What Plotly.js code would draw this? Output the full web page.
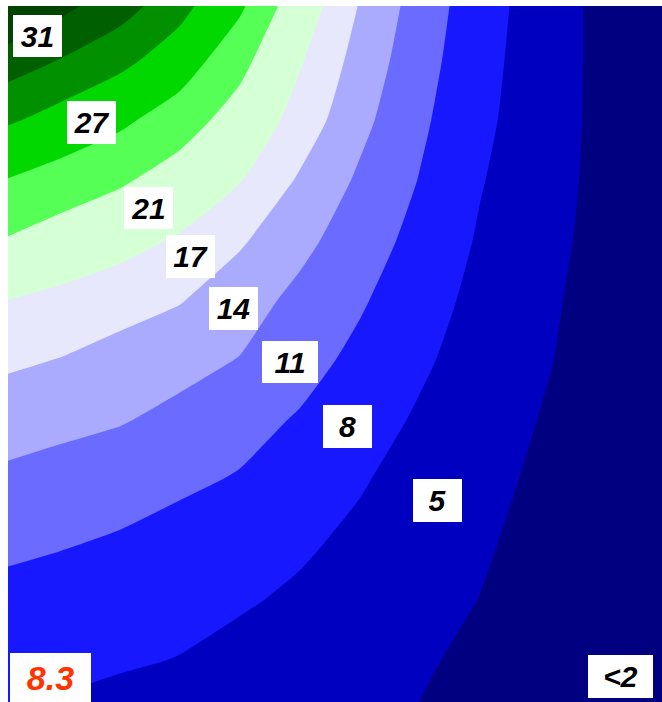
<!DOCTYPE html>
<html>
<head>
<meta charset="utf-8">
<script src="https://cdn.plot.ly/plotly-3.0.1.min.js"></script>
<style>html,body{margin:0;padding:0;background:#fff;}</style>
</head>
<body>
<div id="chart" style="width:662px;height:702px;"></div>
<script>
// grid coordinates (horizontal position, vertical position from top)
var gridX = [0, 52, 112, 172, 232, 292, 352, 412, 472, 532, 592, 654];
var gridY = [0, 54, 114, 174, 234, 294, 354, 414, 474, 534, 594, 654, 696];

// field values (rows top -> bottom)
var zRow0  = [33.5, 31.6, 29.8, 27.8, 24.5, 19.0, 13.8, 9.65, 6.3, 3.65, 1.35, 0.5];
var zRow1  = [30.0, 28.94, 27.7, 25.6, 22.0, 17.3, 12.83, 9.16, 6.0, 3.55, 1.39, 0.5];
var zRow2  = [27.3, 26.2, 24.6, 22.5, 19.55, 15.76, 11.8, 8.54, 5.66, 3.43, 1.39, 0.5];
var zRow3  = [23.9, 22.77, 21.46, 19.49, 17.16, 13.63, 10.54, 7.88, 5.18, 3.23, 1.34, 0.5];
var zRow4  = [20.8, 19.59, 18.19, 16.66, 14.39, 11.81, 9.42, 7.08, 4.71, 2.96, 1.21, 0.4];
var zRow5  = [17.0, 16.15, 15.16, 14.18, 12.27, 10.24, 8.34, 6.18, 4.24, 2.62, 1.0, 0.3];
var zRow6  = [14.5, 13.91, 12.92, 11.93, 10.89, 9.08, 7.26, 5.42, 3.84, 2.35, 0.85, 0.2];
var zRow7  = [12.33, 11.81, 11.21, 10.21, 9.0, 7.73, 6.17, 4.66, 3.29, 1.93, 0.56, 0.1];
var zRow8  = [10.37, 9.81, 9.17, 8.52, 7.76, 6.49, 5.22, 4.0, 2.78, 1.57, 0.37, 0.0];
var zRow9  = [8.63, 8.28, 7.76, 6.98, 6.19, 5.41, 4.49, 3.41, 2.34, 1.26, 0.2, 0.0];
var zRow10 = [7.2, 6.77, 6.27, 5.77, 5.27, 4.6, 3.72, 2.84, 1.96, 1.12, 0.3, 0.0];
var zRow11 = [5.94, 5.64, 5.30, 4.92, 4.25, 3.58, 2.91, 2.24, 1.56, 0.9, 0.3, 0.0];
var zRow12 = [5.1, 4.84, 4.37, 3.89, 3.42, 2.94, 2.47, 1.99, 1.5, 0.9, 0.3, 0.0];

// band boundaries and band colours (lowest band first)
var levels = [2, 5, 8, 11, 14, 17, 21, 24, 27, 29, 31];
var bandColors = ['#000080', '#0000C0', '#1818FF', '#6B6BFF', '#AAAAFF', '#E8E8FC',
                  '#D5FFD5', '#55FF55', '#00D800', '#009000', '#006000', '#004400'];

// labels
var labelTexts = ['31', '27', '21', '17', '14', '11', '8', '5', '&lt;2'];
var valueText = '8.3';

var z = [zRow0, zRow1, zRow2, zRow3, zRow4, zRow5, zRow6, zRow7, zRow8, zRow9, zRow10, zRow11, zRow12];

// contour step of 1 from first to last boundary; each unit band gets its band colour
var cStart = levels[0], cEnd = levels[levels.length - 1], cSize = 1;
var nc = Math.round((cEnd - cStart) / cSize) + 1;
function bandColorFor(v) {
  var idx = 0;
  for (var i = 0; i < levels.length; i++) { if (v >= levels[i]) idx = i + 1; }
  return bandColors[idx];
}
var colorscale = [];
for (var j = 0; j <= nc; j++) {
  var v = (j === 0) ? cStart - 0.5 : cStart + (j - 1) * cSize + 0.5 * cSize;
  colorscale.push([j / nc, bandColorFor(v)]);
}

var trace = {
  type: 'contour',
  x: gridX,
  y: gridY,
  z: z,
  autocontour: false,
  contours: { start: cStart, end: cEnd, size: cSize, coloring: 'fill', showlines: false },
  line: { width: 0, smoothing: 0.6 },
  colorscale: colorscale,
  showscale: false,
  hoverinfo: 'skip'
};

var fontFam = 'Arial, "Liberation Sans", sans-serif';
var labelBoxes = [
  [29.5, 30, 49, 42],
  [83, 116.5, 49, 43],
  [140.5, 202, 49, 42],
  [182.5, 250, 49, 43],
  [225.3, 302.3, 49, 43],
  [282, 356, 56, 42],
  [339.5, 420.5, 49, 43],
  [429.5, 494.3, 49, 43],
  [612.5, 670.5, 65, 43]
];
var annotations = labelTexts.map(function (t, i) {
  var b = labelBoxes[i];
  return {
    xref: 'x', yref: 'y', x: b[0], y: b[1],
    text: '<b><i>' + t + '</i></b>',
    showarrow: false, xanchor: 'center', yanchor: 'middle',
    width: b[2], height: b[3], align: 'center', valign: 'middle',
    bgcolor: '#FFFFFF', borderpad: 0, borderwidth: 0,
    font: { family: fontFam, size: 30, color: '#000000' }
  };
});
annotations.push({
  xref: 'x', yref: 'y', x: 42.5, y: 671.5,
  text: '<b><i>' + valueText + '</i></b>',
  showarrow: false, xanchor: 'center', yanchor: 'middle',
  width: 81, height: 50, align: 'center', valign: 'middle',
  bgcolor: '#FFFFFF', borderpad: 0, borderwidth: 0,
  font: { family: fontFam, size: 34, color: '#FF3300' }
});

var layout = {
  width: 662, height: 702,
  margin: { l: 8, r: 0, t: 6, b: 0, pad: 0 },
  paper_bgcolor: '#FFFFFF', plot_bgcolor: '#FFFFFF',
  showlegend: false,
  xaxis: { range: [0, 654], showgrid: false, zeroline: false, showticklabels: false, ticks: '', showline: false, fixedrange: true },
  yaxis: { range: [696, 0], showgrid: false, zeroline: false, showticklabels: false, ticks: '', showline: false, fixedrange: true },
  annotations: annotations
};

Plotly.newPlot('chart', [trace], layout, { displayModeBar: false, staticPlot: true });
</script>
</body>
</html>
